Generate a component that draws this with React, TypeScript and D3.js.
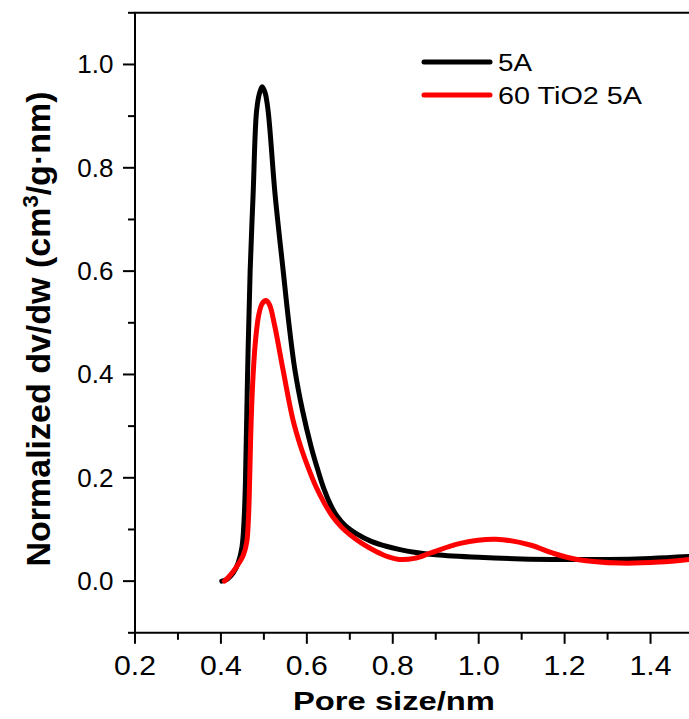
import React from "react";
import * as d3 from "d3";

const xTicks = [0.2, 0.4, 0.6, 0.8, 1.0, 1.2, 1.4];
const xMinor = [0.3, 0.5, 0.7, 0.9, 1.1, 1.3, 1.5];
const yTicks = [0.0, 0.2, 0.4, 0.6, 0.8, 1.0];
const yMinor = [-0.1, 0.1, 0.3, 0.5, 0.7, 0.9, 1.1];

const seriesNames = ["5A", "60 TiO2 5A"];
const seriesColors = ["#000000", "#ff0000"];

const blackX = [0.402, 0.415, 0.428, 0.440, 0.449, 0.454, 0.457, 0.462, 0.468, 0.475, 0.483, 0.490, 0.496, 0.503, 0.510, 0.526, 0.545, 0.558, 0.572, 0.590, 0.610, 0.626, 0.640, 0.655, 0.670, 0.690, 0.717, 0.750, 0.787, 0.817, 0.85, 0.90, 1.0, 1.1, 1.2, 1.3, 1.4, 1.5];
const blackY = [0.000, 0.004, 0.015, 0.035, 0.066, 0.120, 0.190, 0.400, 0.600, 0.750, 0.910, 0.945, 0.957, 0.945, 0.909, 0.749, 0.600, 0.500, 0.410, 0.330, 0.260, 0.214, 0.178, 0.148, 0.126, 0.107, 0.091, 0.077, 0.067, 0.061, 0.056, 0.051, 0.046, 0.043, 0.042, 0.042, 0.044, 0.048];

const redX = [0.408, 0.418, 0.430, 0.442, 0.452, 0.460, 0.464, 0.467, 0.470, 0.475, 0.481, 0.488, 0.496, 0.505, 0.513, 0.525, 0.545, 0.568, 0.585, 0.603, 0.620, 0.640, 0.660, 0.680, 0.700, 0.730, 0.760, 0.790, 0.815, 0.85, 0.887, 0.957, 1.04, 1.12, 1.173, 1.229, 1.33, 1.42, 1.5];
const redY = [0.000, 0.008, 0.020, 0.035, 0.050, 0.075, 0.120, 0.200, 0.300, 0.400, 0.470, 0.515, 0.537, 0.543, 0.535, 0.495, 0.407, 0.311, 0.262, 0.220, 0.185, 0.152, 0.125, 0.105, 0.090, 0.072, 0.058, 0.047, 0.042, 0.044, 0.054, 0.073, 0.081, 0.070, 0.054, 0.042, 0.035, 0.037, 0.043];

const seriesX = [blackX, redX];
const seriesY = [blackY, redY];

export default function App() {
  const W = 689, H = 719;
  const x = d3.scaleLinear().domain([0.2, 1.5]).range([135, 693.5]);
  const y = d3.scaleLinear().domain([-0.1, 1.1]).range([632.8, 12.8]);
  const line = d3
    .line<[number, number]>()
    .x((d) => x(d[0]))
    .y((d) => y(d[1]))
    .curve(d3.curveCatmullRom.alpha(0.5));

  const font = "Arial, 'Liberation Sans', sans-serif";
  const x0 = x(0.2), yb = y(-0.1), yt = y(1.1);

  return (
    <svg width={W} height={H} style={{ position: "absolute", left: 0, top: 0, background: "#fff" }}>
      <rect x={0} y={0} width={W} height={H} fill="#fff" />
      {seriesX.map((xs, i) => (
        <path
          key={i}
          d={line(xs.map((v, j) => [v, seriesY[i][j]] as [number, number])) || ""}
          fill="none"
          stroke={seriesColors[i]}
          strokeWidth={5}
          strokeLinejoin="round"
          strokeLinecap="round"
        />
      ))}
      {/* axes */}
      <line x1={x0} x2={x0} y1={yt} y2={yb} stroke="#000" strokeWidth={2} />
      <line x1={x0 - 1} x2={W} y1={yb} y2={yb} stroke="#000" strokeWidth={2} />
      <line x1={x0 - 1} x2={W} y1={yt} y2={yt} stroke="#000" strokeWidth={2} />
      {yTicks.map((t) => (
        <g key={"yt" + t}>
          <line x1={x0 - 12} x2={x0} y1={y(t)} y2={y(t)} stroke="#000" strokeWidth={2} />
          <text x={113.5} y={y(t) + 9} textAnchor="end" fontFamily={font} fontSize={26} fill="#000">
            {t.toFixed(1)}
          </text>
        </g>
      ))}
      {yMinor.map((t) => (
        <line key={"ym" + t} x1={x0 - 7} x2={x0} y1={y(t)} y2={y(t)} stroke="#000" strokeWidth={2} />
      ))}
      {xTicks.map((t) => (
        <g key={"xt" + t}>
          <line x1={x(t)} x2={x(t)} y1={yb} y2={yb + 11} stroke="#000" strokeWidth={2} />
          <text x={x(t)} y={675} textAnchor="middle" fontFamily={font} fontSize={28} fill="#000" textLength={42} lengthAdjust="spacingAndGlyphs">
            {t.toFixed(1)}
          </text>
        </g>
      ))}
      {xMinor.map((t) => (
        <line key={"xm" + t} x1={x(t)} x2={x(t)} y1={yb} y2={yb + 7} stroke="#000" strokeWidth={2} />
      ))}
      {/* axis titles */}
      <text x={394} y={710} textAnchor="middle" fontFamily={font} fontWeight="bold" fontSize={26} fill="#000" textLength={202} lengthAdjust="spacingAndGlyphs">
        Pore size/nm
      </text>
      <text transform={`translate(50, 329) rotate(-90)`} textAnchor="middle" fontFamily={font} fontWeight="bold" fontSize={34} fill="#000">
        Normalized dv/dw (cm<tspan dy={-12} fontSize={22}>3</tspan><tspan dy={12}>/g·nm)</tspan>
      </text>
      {/* legend */}
      {seriesNames.map((n, i) => (
        <g key={n}>
          <line x1={424} x2={490} y1={62 + i * 33} y2={62 + i * 33} stroke={seriesColors[i]} strokeWidth={5} strokeLinecap="round" />
          <text x={498} y={71 + i * 33} fontFamily={font} fontSize={23} fill="#000" textLength={i === 0 ? 34 : 144} lengthAdjust="spacingAndGlyphs">
            {n}
          </text>
        </g>
      ))}
    </svg>
  );
}
